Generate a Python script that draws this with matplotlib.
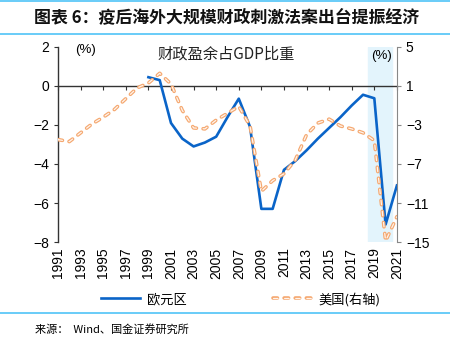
import numpy as np
import matplotlib.pyplot as plt
from matplotlib.lines import Line2D

plt.rcParams['font.family'] = ['Liberation Sans', 'Noto Sans CJK SC', 'DejaVu Sans']
plt.rcParams['lines.scale_dashes'] = False

# 数据
anos_us = list(range(1991, 2022))
us = [-4.5, -4.7, -3.8, -2.9, -2.2, -1.4, -0.3, 0.8, 1.3, 2.3, 1.2, -1.5, -3.3, -3.4,
      -2.5, -1.8, -1.1, -3.1, -9.8, -8.7, -8.0, -6.6, -4.0, -2.8, -2.4, -3.1, -3.4,
      -3.8, -4.6, -14.9, -12.4]
anos_eu = list(range(1999, 2022))
eu = [0.45, 0.3, -1.9, -2.7, -3.1, -2.9, -2.6, -1.6, -0.65, -2.1, -6.3, -6.3, -4.3,
      -3.85, -3.3, -2.7, -2.15, -1.6, -1.0, -0.45, -0.63, -7.1, -5.1]
xticks = list(range(1991, 2022, 2))

azul = '#0a64c8'
laranja = '#f5a870'
miolo = '#fff4ec'
linha_azul = '#4fc3f7'
cjk = ['Noto Sans CJK SC', 'DejaVu Sans']
tracos = (3.2, 4.8)

fig = plt.figure(figsize=(4.5, 3.38), dpi=100)
ax = fig.add_axes([0.129, 0.284, 0.753, 0.577])
ax2 = ax.twinx()

ax.axvspan(2018.4, 2020.6, color='#e3f4fc', zorder=0)
ax.plot(anos_eu, eu, color=azul, lw=1.9, zorder=3)

# linha "oca" tracejada do eixo direito: traço grosso laranja + traço fino claro por cima
ax2.plot(anos_us, us, color=laranja, lw=2.6, dashes=tracos, dash_capstyle='round')
ax2.plot(anos_us, us, color=miolo, lw=0.9, dashes=tracos, dash_capstyle='round')

ax.set_xlim(1991, 2021)
ax.set_ylim(-8, 2)
ax.set_yticks(range(-8, 3, 2))
ax2.set_ylim(-15, 5)
ax2.set_yticks(range(-15, 6, 4))

# eixo x na linha do zero
ax.spines['bottom'].set_position(('data', 0))
ax.spines['top'].set_visible(False)
ax2.spines['top'].set_visible(False)
ax2.spines['bottom'].set_visible(False)
ax2.spines['left'].set_visible(False)
ax.spines['right'].set_visible(False)
for s in ['bottom', 'left']:
    ax.spines[s].set_color('#333333')
    ax.spines[s].set_linewidth(1.0)
ax2.spines['right'].set_color('#888888')
ax.set_xticks(xticks)
ax.tick_params(axis='x', direction='out', length=3, labelbottom=False, color='#333333')
ax.tick_params(axis='y', direction='out', length=3, labelsize=10, color='#333333')
ax2.tick_params(axis='y', direction='out', length=3, labelsize=10, color='#888888')

sec = ax.secondary_xaxis(0.0)
sec.set_xticks(xticks)
sec.set_xticklabels([str(a) for a in xticks], rotation=90, fontsize=10)
sec.tick_params(length=0, pad=4)
sec.spines['bottom'].set_visible(False)

ax.text(0.05, 0.985, '(%)', transform=ax.transAxes, fontsize=9.5, va='center')
ax2.text(0.985, 0.955, '(%)', transform=ax.transAxes, fontsize=9.5, va='center', ha='right')
ax.text(0.495, 0.965, '财政盈余占GDP比重', transform=ax.transAxes, fontsize=11,
        ha='center', va='center', family=cjk, color='#222222')

h1 = Line2D([], [], color=azul, lw=1.9)
h2a = Line2D([], [], color=laranja, lw=2.6, dashes=tracos, dash_capstyle='round')
h2b = Line2D([], [], color=miolo, lw=0.9, dashes=tracos, dash_capstyle='round')
fig.legend([h1, (h2a, h2b)], ['欧元区', '美国(右轴)'], loc='center', bbox_to_anchor=(0.535, 0.115),
           ncol=2, frameon=False, prop={'family': cjk, 'size': 9.5},
           handlelength=3.0, handletextpad=0.5, columnspacing=6.5)

# título e rodapé
fig.text(0.075, 0.95, '图表 6：疫后海外大规模财政刺激法案出台提振经济', fontsize=12.2,
         fontweight='bold', family=cjk, va='center', style='italic', color='#111111')
fig.add_artist(Line2D([0, 1], [0.997, 0.997], color=linha_azul, lw=1.2))
fig.add_artist(Line2D([0, 1], [0.9, 0.9], color=linha_azul, lw=1.2))
fig.add_artist(Line2D([0, 1], [0.074, 0.074], color=linha_azul, lw=1.2))
fig.text(0.078, 0.027, '来源：  Wind、国金证券研究所', fontsize=8, family=cjk, va='center')

fig.savefig('out.png', dpi=100)
